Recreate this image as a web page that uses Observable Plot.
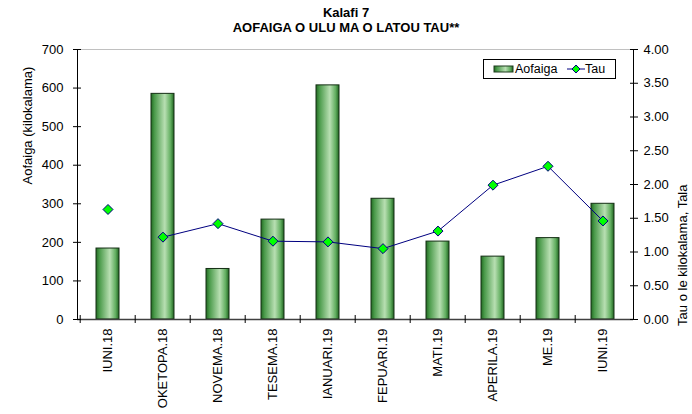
<!DOCTYPE html>
<html>
<head>
<meta charset="utf-8">
<script src="https://cdn.jsdelivr.net/npm/d3@7"></script>
<script src="https://cdn.jsdelivr.net/npm/@observablehq/plot@0.6"></script>
<style>
  body { margin: 0; background: #fff; font-family: "Liberation Sans", Arial, sans-serif; }
  #wrap { position: relative; width: 692px; height: 414px; overflow: hidden; }
  #title { height: 40px; box-sizing: border-box; padding-top: 5px; text-align: center; font-weight: bold; font-size: 13px; line-height: 15px; color: #000; }
  #legend { position: absolute; left: 483px; top: 59px; width: 133px; height: 20px; box-sizing: border-box; border: 1px solid #000; background: #fff; font-size: 12.5px; color: #000; }
  #legend svg { position: absolute; left: 0; top: 0; }
  #legend span { position: absolute; top: 2px; }
</style>
</head>
<body>
<svg width="0" height="0" style="position:absolute">
  <defs>
    <linearGradient id="barGrad" x1="0" x2="1" y1="0" y2="0">
      <stop offset="0" stop-color="#226a22"/>
      <stop offset="0.15" stop-color="#4a9a4a"/>
      <stop offset="0.6" stop-color="#b8dfb2"/>
      <stop offset="0.85" stop-color="#62ae60"/>
      <stop offset="1" stop-color="#206420"/>
    </linearGradient>
  </defs>
</svg>
<div id="wrap">
  <div id="title">Kalafi 7<br>AOFAIGA O ULU MA O LATOU TAU**</div>
  <div id="chart"></div>
  <div id="legend">
    <svg width="133" height="20">
      <rect x="10" y="6" width="19" height="6" fill="url(#barGrad)" stroke="#1e3d1e" stroke-width="1"/>
      <line x1="83" x2="101" y1="9" y2="9" stroke="#000080" stroke-width="1"/>
      <path d="M92,5 L96,9 L92,13 L88,9 Z" fill="#00ff00" stroke="#000080" stroke-width="1"/>
    </svg>
    <span style="left:31px">Aofaiga</span>
    <span style="left:101px">Tau</span>
  </div>
</div>
<script>
const months = ["IUNI.18","OKETOPA.18","NOVEMA.18","TESEMA.18","IANUARI.19","FEPUARI.19","MATI.19","APERILA.19","ME.19","IUNI.19"];
const aofaiga = [184, 585, 131, 259, 607, 313, 202, 163, 211, 300];
const tau = [1.63, 1.22, 1.42, 1.16, 1.15, 1.05, 1.31, 1.99, 2.27, 1.46];
const leftTicks = [0, 100, 200, 300, 400, 500, 600, 700];
const rightTickLabels = [0, 0.5, 1, 1.5, 2, 2.5, 3, 3.5, 4];
const leftLabel = "Aofaiga (kilokalama)";
const rightLabel = "Tau o le kilokalama, Tala";

const ratio = 700 / 4; // right axis 0–4.00 aligned with left 0–700
const data = months.map((m, i) => ({month: m, value: aofaiga[i], tau: tau[i], connected: i > 0}));

const W = 692, H = 374;
const mL = 77, mR = 59, mT = 9, mB = 95;
const step = (W - mL - mR) / months.length;

const chart = Plot.plot({
  width: W, height: H,
  marginLeft: mL, marginRight: mR, marginTop: mT, marginBottom: mB,
  style: {fontFamily: "'Liberation Sans', Arial, sans-serif", fontSize: "13px", color: "#000", background: "#fff"},
  x: {type: "band", domain: months, paddingInner: 0.58, paddingOuter: 0.29, axis: null},
  y: {domain: [0, 700], axis: null},
  marks: [
    Plot.frame({anchor: "top", stroke: "#c0c0c0"}),
    Plot.barY(data, {x: "month", y: "value", fill: "url(#barGrad)", stroke: "#142e14", strokeWidth: 1}),
    Plot.line(data.filter(d => d.connected), {x: "month", y: d => d.tau * ratio, stroke: "#000080", strokeWidth: 1}),
    Plot.dot(data, {x: "month", y: d => d.tau * ratio, symbol: "diamond2", r: 4.5, fill: "#00ff00", stroke: "#000080", strokeWidth: 1}),
    Plot.frame({anchor: "left", stroke: "#000"}),
    Plot.frame({anchor: "right", stroke: "#000"}),
    Plot.ruleY([0], {stroke: "#404040", strokeWidth: 1.5}),
    Plot.ruleX(months, {x: d => d, y1: 0, y2: 0, dx: -step / 2, insetTop: -4, insetBottom: -4, stroke: "#000"}),
    Plot.axisY(leftTicks, {anchor: "left", tickSize: 8, insetLeft: 4, tickPadding: 10, tickFormat: d => String(d), label: null, fontSize: 13}),
    Plot.axisY(rightTickLabels.map(v => v * ratio), {anchor: "right", tickSize: 8, insetRight: 4, tickPadding: 6, tickFormat: d => (d / ratio).toFixed(2), label: null, fontSize: 13}),
    Plot.axisX({tickSize: 0, tickRotate: -90, tickPadding: 9, label: null, fontSize: 13}),
    Plot.text([leftLabel], {frameAnchor: "left", text: d => d, rotate: -90, dx: -50, fontSize: 13}),
    Plot.text([rightLabel], {frameAnchor: "right", text: d => d, rotate: -90, dx: 49, fontSize: 13})
  ]
});
document.getElementById("chart").appendChild(chart);
</script>
</body>
</html>
